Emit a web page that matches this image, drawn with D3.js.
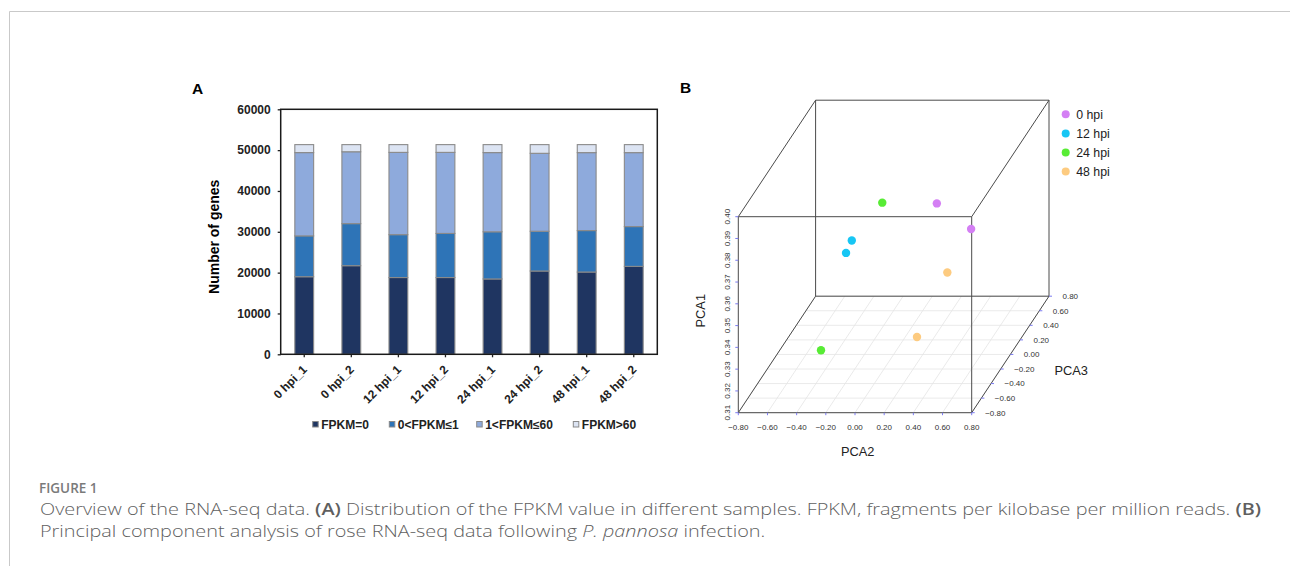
<!DOCTYPE html>
<html>
<head>
<meta charset="utf-8">
<script src="https://cdn.jsdelivr.net/npm/d3@7"></script>
<style>
  html, body { margin: 0; padding: 0; background: #fff; }
  svg { display: block; }
</style>
</head>
<body>
<svg id="fig" width="1290" height="566"></svg>
<script>
// ---------------- Panel A data ----------------
const samples = ["0 hpi_1", "0 hpi_2", "12 hpi_1", "12 hpi_2", "24 hpi_1", "24 hpi_2", "48 hpi_1", "48 hpi_2"];
const fpkmZero = [19000, 21700, 18800, 18800, 18450, 20400, 20150, 21530];
const fpkm0to1 = [10000, 10300, 10500, 10800, 11550, 9730, 10150, 9750];
const fpkm1to60 = [20400, 17600, 20150, 19850, 19400, 19090, 19090, 18110];
const fpkmOver60 = [1950, 1750, 1900, 1900, 1950, 2130, 1960, 1960];
const seriesNames = ["FPKM=0", "0<FPKM\u22641", "1<FPKM\u226460", "FPKM>60"];
const seriesColors = ["#1f3561", "#2e74b7", "#8eaadc", "#dce4f3"];
const yTicksA = [0, 10000, 20000, 30000, 40000, 50000, 60000];

// ---------------- Panel B data ----------------
const groups = ["0 hpi", "12 hpi", "24 hpi", "48 hpi"];
const groupColors = ["#d47ff4", "#17c6f4", "#58ec35", "#fdcb80"];
const pcaGroup = ["0 hpi", "0 hpi", "12 hpi", "12 hpi", "24 hpi", "24 hpi", "48 hpi", "48 hpi"];
const pca1 = [0.374, 0.389, 0.373, 0.370, 0.369, 0.328, 0.353, 0.318];
const pca2 = [0.243, 0.743, -0.181, -0.194, -0.184, -0.339, 0.421, 0.160];
const pca3 = [0.16, -0.64, -0.32, -0.40, 0.32, -0.48, -0.16, 0.00];
const pca1Ticks = [0.31, 0.32, 0.33, 0.34, 0.35, 0.36, 0.37, 0.38, 0.39, 0.40];
const pca23Ticks = [-0.8, -0.6, -0.4, -0.2, 0, 0.2, 0.4, 0.6, 0.8];

const svg = d3.select("#fig");
const FONT = "'Liberation Sans', Arial, Helvetica, sans-serif";

// ---------------- Figure frame ----------------
svg.append("line").attr("x1", 9.5).attr("x2", 1290).attr("y1", 11.5).attr("y2", 11.5)
  .attr("stroke", "#c9c9c9").attr("stroke-width", 1);
svg.append("line").attr("x1", 9.5).attr("x2", 9.5).attr("y1", 11.5).attr("y2", 566)
  .attr("stroke", "#c9c9c9").attr("stroke-width", 1);

// ================= Panel A =================
const A = { left: 280.7, right: 657.3, top: 109.3, bottom: 354.3 };
const xA = d3.scaleBand().domain(samples).range([A.left, A.right]).paddingInner(0.6).paddingOuter(0.3);
const yA = d3.scaleLinear().domain([0, 60000]).range([A.bottom, A.top]);

const gA = svg.append("g").attr("font-family", FONT);
gA.append("text").attr("x", 192).attr("y", 93.5).attr("font-size", 15.5).attr("font-weight", "bold")
  .attr("fill", "#000").text("A");

const stackData = samples.map((s, i) => ({ sample: s, s0: fpkmZero[i], s1: fpkm0to1[i], s2: fpkm1to60[i], s3: fpkmOver60[i] }));
const stacked = d3.stack().keys(["s0", "s1", "s2", "s3"])(stackData);

gA.selectAll("g.series").data(stacked).join("g").attr("class", "series")
  .attr("fill", (d, i) => seriesColors[i])
  .selectAll("rect").data(d => d).join("rect")
  .attr("x", d => xA(d.data.sample))
  .attr("width", xA.bandwidth())
  .attr("y", d => yA(d[1]))
  .attr("height", d => yA(d[0]) - yA(d[1]))
  .attr("stroke", "#8a8a8a").attr("stroke-width", 1.1);

// y axis
const yAxisA = d3.axisLeft(yA).tickValues(yTicksA).tickSize(3).tickPadding(7).tickFormat(d3.format("d"));
const gy = gA.append("g").attr("transform", `translate(${A.left},0)`).call(yAxisA);
gy.select(".domain").remove();
gy.selectAll("line").attr("stroke", "#222").attr("stroke-width", 1.3);
gy.selectAll("text").attr("font-family", FONT).attr("font-size", 12).attr("font-weight", "bold").attr("fill", "#222");

// x axis
const xAxisA = d3.axisBottom(xA).tickSize(3).tickFormat("");
const gx = gA.append("g").attr("transform", `translate(0,${A.bottom})`).call(xAxisA);
gx.select(".domain").remove();
gx.selectAll("line").attr("stroke", "#222").attr("stroke-width", 1.3);
gA.selectAll("text.xlab").data(samples).join("text").attr("class", "xlab")
  .attr("transform", d => `translate(${xA(d) + xA.bandwidth() / 2 + 3.5},${A.bottom + 16}) rotate(-45)`)
  .attr("text-anchor", "end").attr("font-size", 12).attr("font-weight", "bold").attr("fill", "#222")
  .text(d => d);

// plot frame
gA.append("rect").attr("x", A.left).attr("y", A.top).attr("width", A.right - A.left).attr("height", A.bottom - A.top)
  .attr("fill", "none").attr("stroke", "#1a1a1a").attr("stroke-width", 1.5);

// y title
gA.append("text").attr("transform", `translate(219,${(A.top + A.bottom) / 2 + 5}) rotate(-90)`)
  .attr("text-anchor", "middle").attr("font-size", 14).attr("font-weight", "bold").attr("fill", "#000")
  .text("Number of genes");

// legend
const legX = [312.7, 389.3, 476.7, 573.3];
const leg = gA.selectAll("g.leg").data(seriesNames).join("g").attr("class", "leg")
  .attr("transform", (d, i) => `translate(${legX[i]},421.5)`);
leg.append("rect").attr("width", 5.5).attr("height", 5.5).attr("fill", (d, i) => seriesColors[i])
  .attr("stroke", "#8a8a8a").attr("stroke-width", 1);
leg.append("text").attr("x", 8.5).attr("y", 7.3).attr("font-size", 12).attr("font-weight", "bold")
  .attr("fill", "#222").text(d => d);

// ================= Panel B =================
const gB = svg.append("g").attr("font-family", FONT);
gB.append("text").attr("x", 680).attr("y", 93.3).attr("font-size", 15.5).attr("font-weight", "bold")
  .attr("fill", "#000").text("B");

const x2 = d3.scaleLinear().domain([-0.8, 0.8]).range([738.3, 971.7]);
const y1 = d3.scaleLinear().domain([0.31, 0.40]).range([412.7, 216.7]);
const depth = d3.scaleLinear().domain([-0.8, 0.8]).range([0, 1]);
const DX = 77.3, DY = -116.5;
const proj = (p1, p2, p3) => [x2(p2) + depth(p3) * DX, y1(p1) + depth(p3) * DY];

// floor grid
const gridCol = "#e4e4e4";
pca23Ticks.forEach(t => {
  const a = proj(0.31, t, -0.8), b = proj(0.31, t, 0.8);
  gB.append("line").attr("x1", a[0]).attr("y1", a[1]).attr("x2", b[0]).attr("y2", b[1])
    .attr("stroke", gridCol).attr("stroke-width", 0.8);
  const c = proj(0.31, -0.8, t), e = proj(0.31, 0.8, t);
  gB.append("line").attr("x1", c[0]).attr("y1", c[1]).attr("x2", e[0]).attr("y2", e[1])
    .attr("stroke", gridCol).attr("stroke-width", 0.8);
});

// box edges
const lo1 = 0.31, hi1 = 0.40, lo = -0.8, hi = 0.8;
const corners = [];
[lo1, hi1].forEach(a => [lo, hi].forEach(b => [lo, hi].forEach(c => corners.push([a, b, c]))));
const edges = [];
for (let i = 0; i < corners.length; i++) for (let j = i + 1; j < corners.length; j++) {
  const diff = corners[i].reduce((n, v, k) => n + (v !== corners[j][k] ? 1 : 0), 0);
  if (diff === 1) edges.push([corners[i], corners[j]]);
}
gB.selectAll("line.edge").data(edges).join("line").attr("class", "edge")
  .attr("x1", d => proj(...d[0])[0]).attr("y1", d => proj(...d[0])[1])
  .attr("x2", d => proj(...d[1])[0]).attr("y2", d => proj(...d[1])[1])
  .attr("stroke", "#4a4a4a").attr("stroke-width", 1);

const tickCol = "#7b7bf0";
const tickFmt = d3.format(".2f");
const minusFmt = v => tickFmt(v).replace("-", "\u2212");

// PCA1 axis (front-left vertical)
pca1Ticks.forEach(t => {
  const p = proj(t, -0.8, -0.8);
  gB.append("line").attr("x1", p[0] - 3).attr("x2", p[0]).attr("y1", p[1]).attr("y2", p[1])
    .attr("stroke", tickCol).attr("stroke-width", 1);
  gB.append("text").attr("transform", `translate(${p[0] - 8.5},${p[1]}) rotate(-90)`)
    .attr("text-anchor", "middle").attr("font-size", 8).attr("fill", "#333").text(tickFmt(t));
});
// PCA2 axis (front-bottom)
pca23Ticks.forEach(t => {
  const p = proj(0.31, t, -0.8);
  gB.append("line").attr("x1", p[0]).attr("x2", p[0]).attr("y1", p[1]).attr("y2", p[1] + 2.5)
    .attr("stroke", tickCol).attr("stroke-width", 1);
  gB.append("text").attr("x", p[0]).attr("y", p[1] + 16.8)
    .attr("text-anchor", "middle").attr("font-size", 8).attr("fill", "#333").text(minusFmt(t));
});
// PCA3 axis (right-bottom diagonal)
pca23Ticks.forEach(t => {
  const p = proj(0.31, 0.8, t);
  gB.append("line").attr("x1", p[0]).attr("x2", p[0] + 3).attr("y1", p[1]).attr("y2", p[1])
    .attr("stroke", tickCol).attr("stroke-width", 1);
  gB.append("text").attr("x", p[0] + 13.5).attr("y", p[1] + 2.9)
    .attr("text-anchor", "start").attr("font-size", 8).attr("fill", "#333").text(minusFmt(t));
});

// axis titles
gB.append("text").attr("x", 857.7).attr("y", 455.5).attr("text-anchor", "middle")
  .attr("font-size", 12.8).attr("fill", "#222").text("PCA2");
gB.append("text").attr("x", 1054.5).attr("y", 375.3).attr("text-anchor", "start")
  .attr("font-size", 12.8).attr("fill", "#222").text("PCA3");
gB.append("text").attr("transform", "translate(704.5,310.7) rotate(-90)").attr("text-anchor", "middle")
  .attr("font-size", 12.8).attr("fill", "#222").text("PCA1");

// points
const colorOf = d3.scaleOrdinal().domain(groups).range(groupColors);
gB.selectAll("circle.pt").data(pca1.map((v, i) => i)).join("circle").attr("class", "pt")
  .attr("cx", i => proj(pca1[i], pca2[i], pca3[i])[0])
  .attr("cy", i => proj(pca1[i], pca2[i], pca3[i])[1])
  .attr("r", 4.2).attr("fill", i => colorOf(pcaGroup[i]));

// legend B
const legB = gB.selectAll("g.legb").data(groups).join("g").attr("class", "legb")
  .attr("transform", (d, i) => `translate(1065.7,${114.3 + i * 19.1})`);
legB.append("circle").attr("r", 4).attr("fill", d => colorOf(d));
legB.append("text").attr("x", 10.5).attr("y", 4.4).attr("font-size", 12.3).attr("fill", "#222").text(d => d);

// ================= Caption =================
const CAP = "'Open Sans', 'Noto Sans', sans-serif";
svg.append("text").attr("x", 39).attr("y", 493.3).attr("font-family", CAP).attr("font-size", 13.5)
  .attr("font-weight", 600).attr("fill", "#7a7a7a").text("FIGURE 1");

const capLines = [
  [["Overview of the RNA-seq data. ", 300, "normal"], ["(A)", 600, "normal"],
   [" Distribution of the FPKM value in different samples. FPKM, fragments per kilobase per million reads. ", 300, "normal"],
   ["(B)", 600, "normal"]],
  [["Principal component analysis of rose RNA-seq data following ", 300, "normal"], ["P. pannosa", 300, "italic"],
   [" infection.", 300, "normal"]]
];
const capY = [514.5, 536.5];
const capNodes = capLines.map((parts, li) => {
  const t = svg.append("text").attr("x", 0).attr("y", 0).attr("font-family", CAP).attr("font-size", 16.5)
    .attr("fill", "#5f5f5f");
  parts.forEach(p => t.append("tspan").attr("font-weight", p[1]).attr("font-style", p[2]).text(p[0]));
  return t;
});
const natural = capNodes[0].node().getComputedTextLength();
const k = 1222 / natural;
capNodes.forEach((t, li) => t.attr("transform", `translate(40,${capY[li]}) scale(${k},1)`));
</script>
</body>
</html>
